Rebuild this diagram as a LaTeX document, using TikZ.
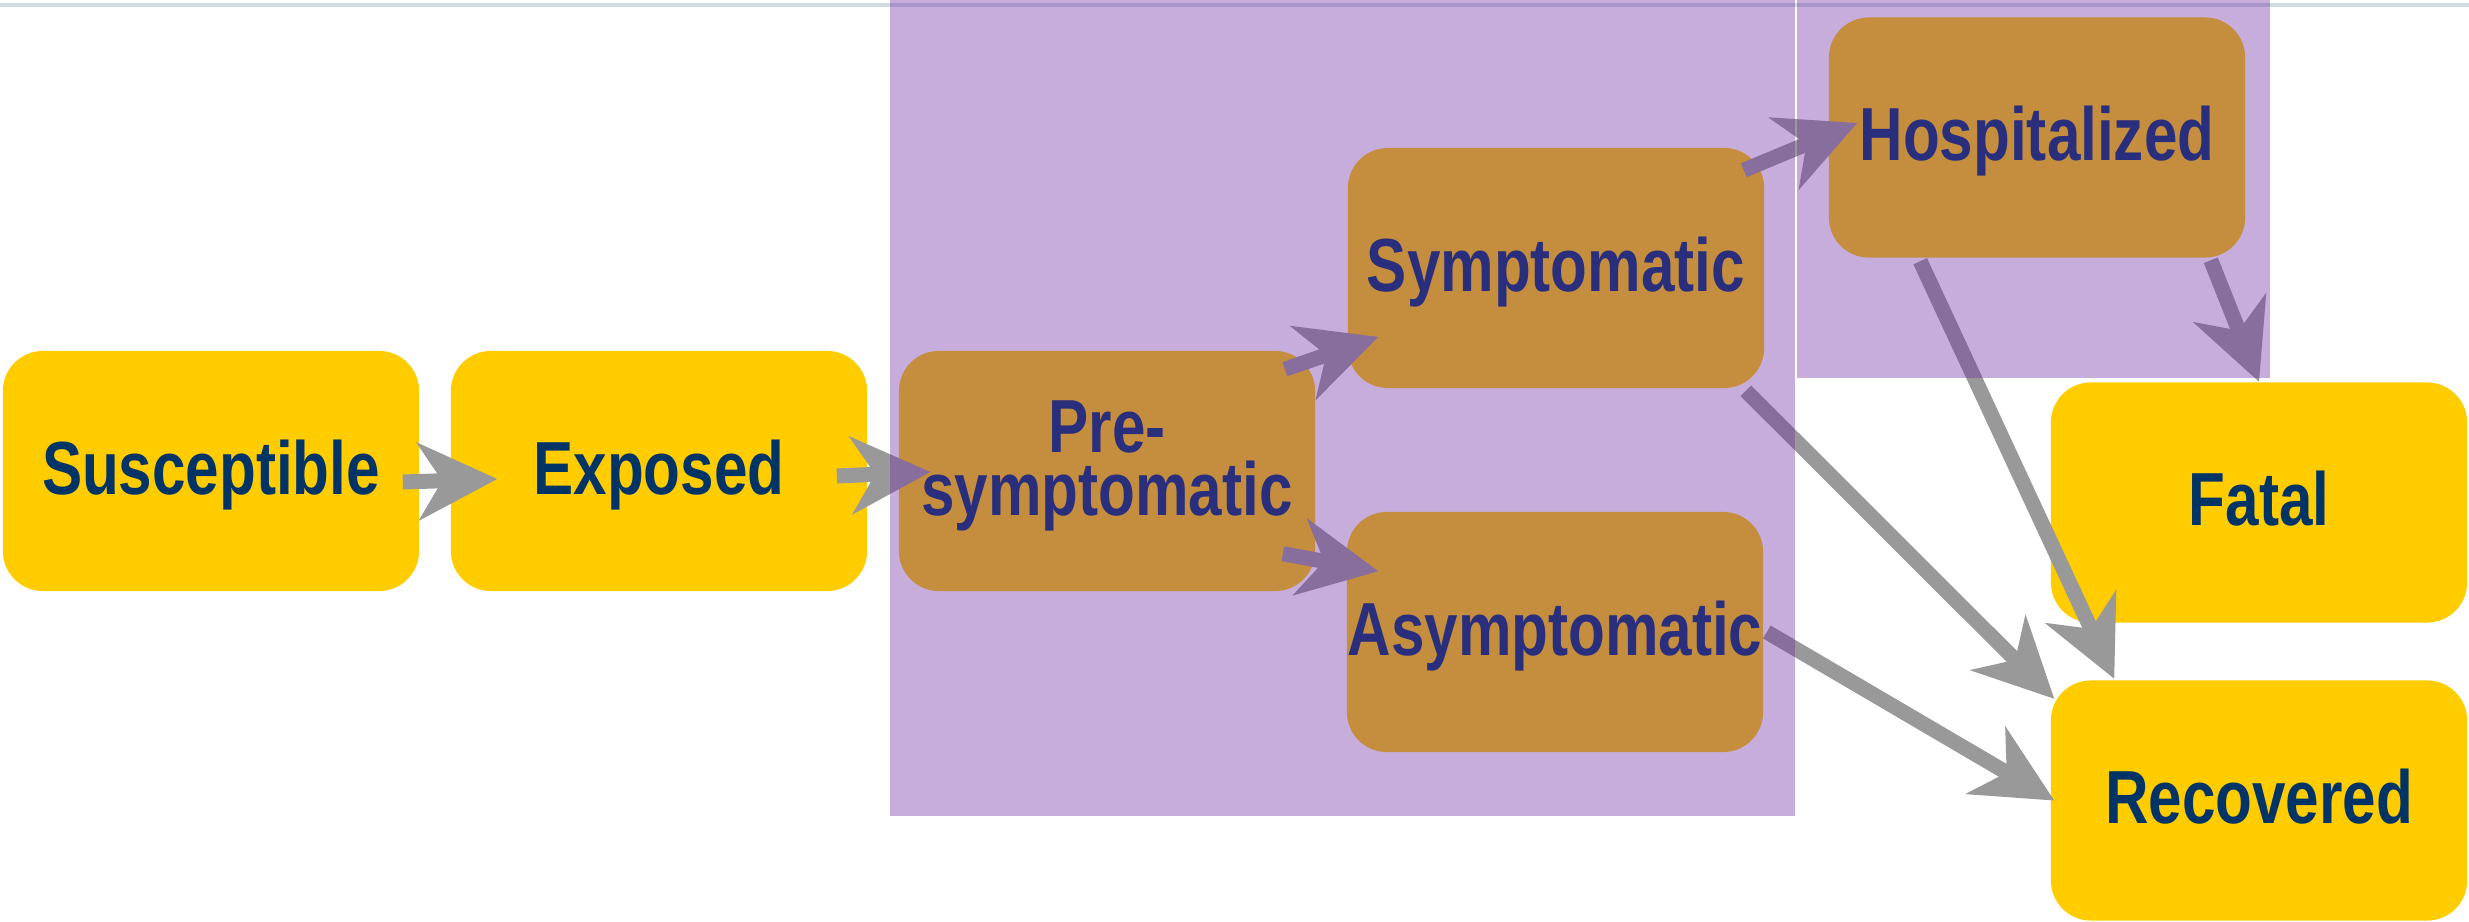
\documentclass[tikz,border=0pt]{standalone}
\usepackage{fontspec}
\setmainfont{Liberation Sans}[FakeStretch=0.8]
\usetikzlibrary{arrows.meta}

\definecolor{boxyellow}{RGB}{255,204,0}
\definecolor{labelnavy}{RGB}{0,51,102}
\definecolor{flowgrey}{RGB}{153,153,153}
\definecolor{shadepurple}{RGB}{107,43,161}
\definecolor{topline}{RGB}{208,218,226}

\begin{document}
\begin{tikzpicture}[x=0.01cm, y=-0.01cm,
    state/.style={fill=boxyellow, rounded corners=0.4cm, minimum width=4.16cm,
        minimum height=2.4cm, inner sep=0pt, text=labelnavy,
        font=\bfseries\fontsize{21.4}{17.64}\selectfont,
        text height=0.54cm, text depth=0.08cm},
    flow/.style={draw=flowgrey, line width=0.15cm,
        -{Stealth[length=0.8cm, width=0.79cm, inset=0.25cm, line width=0pt]}},
    shade/.style={fill=shadepurple, fill opacity=0.39}]
    \useasboundingbox (0,0) rectangle (2469,922);

    % thin rule along the top
    \draw[topline, line width=0.04cm] (0,5) -- (2469,5);

    % compartments
    \node[state] (sus)   at (211,471)    {Susceptible};
    \node[state] (exp)   at (659,471)    {Exposed};
    \node[state, align=center, text height=1.16cm, text depth=0.28cm] (pre) at (1107,471) {Pre-\\symptomatic};
    \node[state] (sym)   at (1556,268)   {Symptomatic};
    \node[state] (asym)  at (1555,632)   {Asymptomatic};
    \node[state] (hosp)  at (2037,137.5) {Hospitalized};
    \node[state] (fatal) at (2259,502.5) {Fatal};
    \node[state] (rec)   at (2259,800.5) {Recovered};

    % transitions
    \draw[flow] ([shift={(-17,11)}]sus.east)      -- ([shift={(47,8)}]exp.west);
    \draw[flow] ([shift={(-31,5)}]exp.east)       -- ([shift={(32,1)}]pre.west);
    \draw[flow] ([shift={(-31,19)}]pre.north east) -- ([shift={(31,69)}]sym.west);
    \draw[flow] ([shift={(-33,-38)}]pre.south east) -- ([shift={(32,60)}]asym.north west);
    \draw[flow] ([shift={(-21,23)}]sym.north east) -- ([shift={(29,-14.5)}]hosp.west);
    \draw[flow] ([shift={(-19,2)}]sym.south east) -- ([shift={(4,19)}]rec.north west);
    \draw[flow] ([shift={(3,0)}]asym.east)        -- ([shift={(4,0)}]rec.west);
    \draw[flow] ([shift={(92,3)}]hosp.south west) -- ([shift={(64,-1)}]rec.north west);
    \draw[flow] ([shift={(-35,2)}]hosp.south east) -- (fatal.north);

    % shaded groups
    \fill[shade] (890,0) rectangle (1795,816);
    \fill[shade] (1797,0) rectangle (2270,378);
\end{tikzpicture}
\end{document}
